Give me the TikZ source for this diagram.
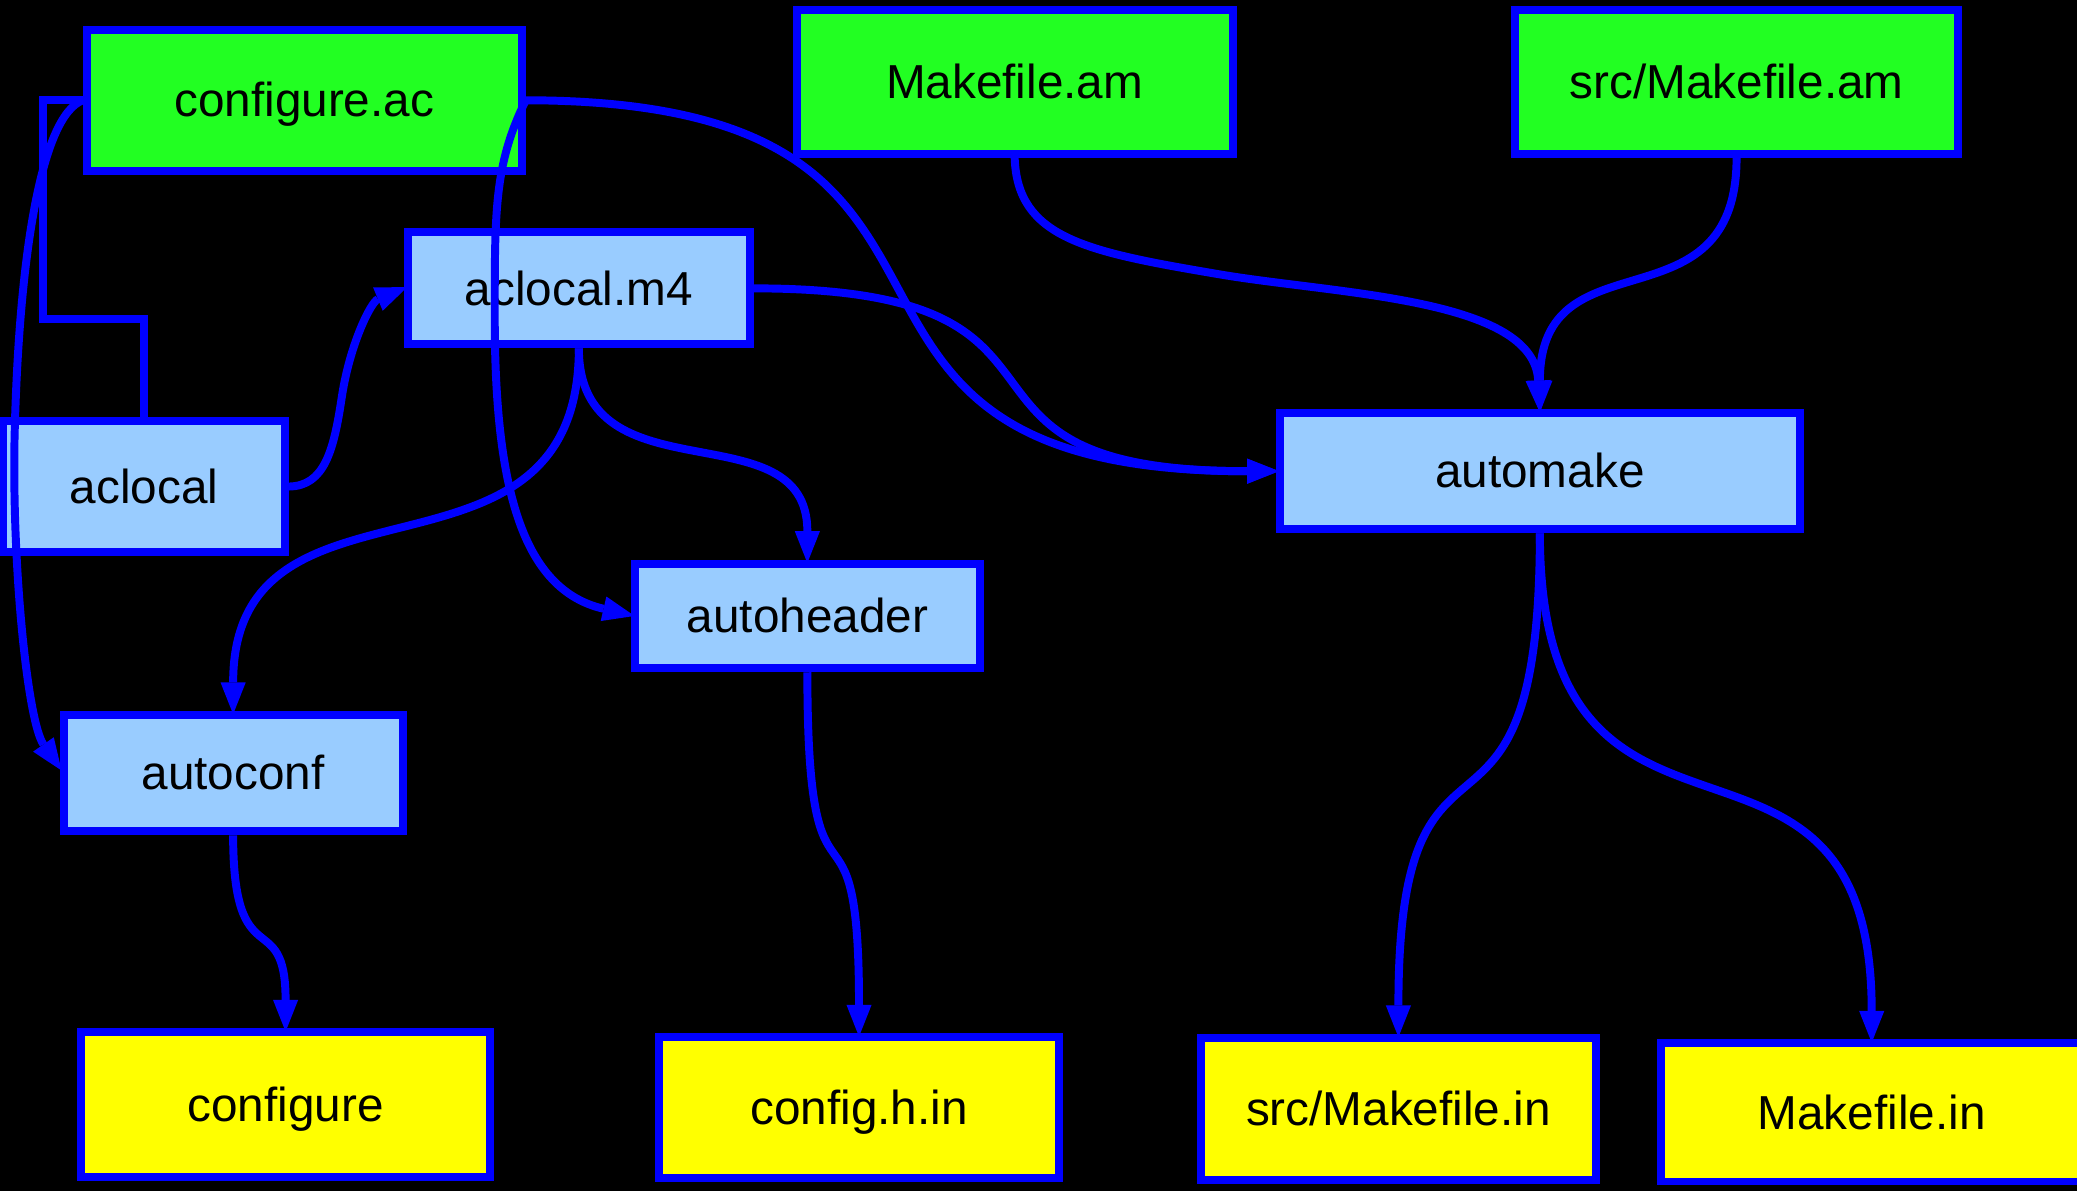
\documentclass[tikz,border=0pt]{standalone}
\usepackage{fontspec}
\setmainfont{Liberation Sans}
\usetikzlibrary{arrows.meta,calc}

\definecolor{srcgreen}{RGB}{34,255,34}
\definecolor{toolblue}{RGB}{153,204,255}
\definecolor{outyellow}{RGB}{255,255,0}
\definecolor{linkblue}{RGB}{0,0,255}

\begin{document}
\begin{tikzpicture}[x=1pt,y=-1pt,
  box/.style={draw=linkblue, line width=6pt, inner sep=0pt, anchor=center,
    font=\fontsize{36}{40}\selectfont, text height=25.2pt, text depth=0pt},
  source/.style={box, fill=srcgreen},
  tool/.style={box, fill=toolblue},
  product/.style={box, fill=outyellow},
  flow/.style={draw=linkblue, line width=6pt},
  feed/.style={flow, -{Triangle[length=24pt,width=19pt,line width=0pt]}},
]
% canvas
\fill[black] (0,0) rectangle (1568,899);
\useasboundingbox (0,0) rectangle (1568,899);

% hand-written inputs
\node[source, minimum width=328.5pt, minimum height=106.5pt] (cfgac) at (229.7,75.7) {configure.ac};
\node[source, minimum width=329pt,   minimum height=108.5pt] (mkam)  at (766,61.75) {Makefile.am};
\node[source, minimum width=334.5pt, minimum height=108.5pt] (srcam) at (1311,61.75) {src/Makefile.am};

% tools
\node[tool, minimum width=258pt,   minimum height=84.5pt] (m4)         at (437,217.7)   {aclocal.m4};
\node[tool, minimum width=212.4pt, minimum height=99.4pt] (aclocal)    at (108.8,367.3) {aclocal};
\node[tool, minimum width=393pt,   minimum height=87.8pt] (automake)   at (1162.5,355.7) {automake};
\node[tool, minimum width=260pt,   minimum height=79pt]   (autoheader) at (609.5,465)   {autoheader};
\node[tool, minimum width=256pt,   minimum height=88pt]   (autoconf)   at (176,583.7)   {autoconf};

% generated files
\node[product, minimum width=308.7pt, minimum height=109.4pt] (configure) at (215.6,834)   {configure};
\node[product, minimum width=302pt,   minimum height=106.5pt] (confighin) at (648.5,836.3) {config.h.in};
\node[product, minimum width=298.5pt, minimum height=107pt]   (srcmkin)   at (1055.7,837)  {src/Makefile.in};
\node[product, minimum width=318pt,   minimum height=104.3pt] (mkin)      at (1413,839.8)  {Makefile.in};

% configure.ac feeds aclocal along a right-angled route
\coordinate (bendA) at (32.5,241);
\draw[flow] (cfgac.west) -| (bendA) -| (aclocal.north);

% configure.ac feeds autoconf, autoheader and automake
\draw[feed] (cfgac.west) .. controls (30,88) and (14,200) .. (11,330)
  .. controls (9,430) and (21,545) .. ($(autoconf.west)+(1.5,-2)$);
\draw[feed] (cfgac.east) .. controls (373,124) and (373.5,160) .. (373.5,240)
  .. controls (373.5,370) and (395,445.5) .. ($(autoheader.west)+(2.5,0)$);
\draw[feed] (cfgac.east) .. controls (800,76) and (559,356) .. ($(automake.west)+(2.5,0)$);

% aclocal produces aclocal.m4, which feeds the other tools
\draw[feed] (aclocal.east) .. controls (245,367) and (252,340) .. (258,300)
  .. controls (264,260) and (280,228) .. ($(m4.west)+(2.5,-1)$);
\draw[feed] (m4.east) .. controls (849,217.7) and (682,356) .. ($(automake.west)+(2.5,0)$);
\draw[feed] (m4.south) .. controls (437,460) and (176,340) .. ($(autoconf.north)+(0,2.5)$);
\draw[feed] (m4.south) .. controls (437,379) and (609.5,307) .. ($(autoheader.north)+(0,2.5)$);

% Makefile.am inputs feed automake
\draw[feed] (mkam.south) .. controls (768,180) and (820,190) .. (920,207)
  .. controls (1010,222.3) and (1158,225) .. ($(automake.north)+(0,2.5)$);
\draw[feed] (srcam.south) .. controls (1311,252) and (1162.5,174) .. ($(automake.north)+(0,2.5)$);

% outputs
\draw[feed] (automake.south) .. controls (1162.5,682) and (1055.7,508) .. ($(srcmkin.north)+(0,2.5)$);
\draw[feed] (automake.south) .. controls (1162.5,690) and (1413,504) .. ($(mkin.north)+(0,2.5)$);
\draw[feed] (autoheader.south) .. controls (609.5,717.5) and (648.5,577) .. ($(confighin.north)+(0,2.5)$);
\draw[feed] (autoconf.south) .. controls (176,739.5) and (215.6,682.5) .. ($(configure.north)+(0,2.5)$);
\end{tikzpicture}
\end{document}
